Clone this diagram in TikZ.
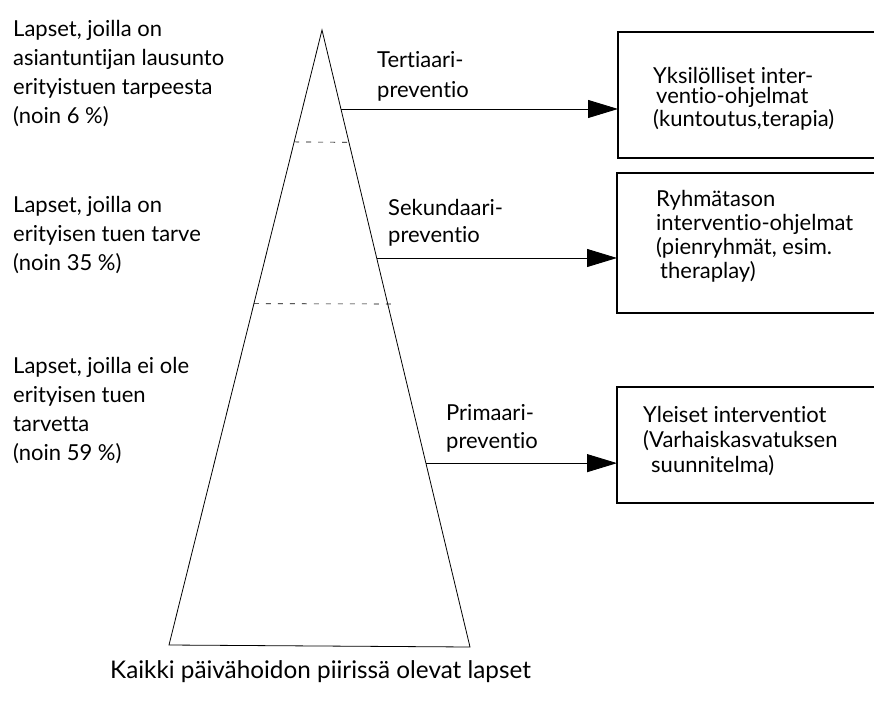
\documentclass[tikz,border=0pt]{standalone}
\usepackage{fontspec}
\setmainfont{Lato}[Ligatures=NoCommon]
\usetikzlibrary{arrows.meta,calc}
\begin{document}
\begin{tikzpicture}[x=1pt,y=-1pt,
  txt/.style={font=\fontsize{22}{29}\selectfont, align=left, inner sep=0pt, anchor=base west},
  box/.style={draw, line width=1.2pt, anchor=north west, minimum width=300pt, inner sep=0pt, outer sep=0pt},
  arr/.style={line width=0.9pt, -{Triangle[length=30pt,width=18pt]}},
  sep/.style={dash pattern=on 5pt off 7pt, line width=0.6pt}
]
\useasboundingbox (0,0) rectangle (874,701);
\clip (0,0) rectangle (874,701);
% pyramid
\coordinate (apex) at (322,30);
\coordinate (bl) at (169,645);
\coordinate (br) at (470,647);
\draw[line width=0.8pt, line join=miter] (apex) -- (br) -- (bl) -- cycle;
% level separators
\coordinate (d1l) at ($(apex)!0.182!(bl)$);
\coordinate (d1r) at ($(apex)!0.182!(br)$);
\coordinate (d2l) at ($(apex)!0.445!(bl)$);
\coordinate (d2e) at (397,304);
\draw[sep] (d1l) -- (d1r);
\draw[sep] (d2l) -- (d2e);
% boxes
\node[box, minimum height=126pt] (box1) at (618,32) {};
\node[box, minimum height=140pt] (box2) at (617,173) {};
\node[box, minimum height=116pt] (box3) at (617,387) {};
% arrows
\coordinate (a1) at ($(apex)!0.128!(br)$);
\coordinate (a2) at ($(apex)!0.3695!(br)$);
\coordinate (a3) at ($(apex)!0.702!(br)$);
\draw[arr] (a1) -- (a1 -| box1.west);
\draw[arr] (a2) -- (a2 -| box2.west);
\draw[arr] (a3) -- (a3 -| box3.west);
% left texts (anchored at the baseline of the last line)
\node[txt] (l1) at (13,123) {Lapset, joilla on\\asiantuntijan lausunto\\erityistuen tarpeesta\\(noin 6 \%)};
\node[txt] (l2) at (13,270) {Lapset, joilla on\\erityisen tuen tarve\\(noin 35 \%)};
\node[txt] (l3) at (13,460) {Lapset, joilla ei ole\\erityisen tuen\\tarvetta\\(noin 59 \%)};
% prevention labels
\node[txt, font=\fontsize{22}{30}\selectfont] (m1) at (377,97) {Tertiaari-\\preventio};
\node[txt, font=\fontsize{22}{27}\selectfont] (m2) at (388,242) {Sekundaari-\\preventio};
\node[txt, font=\fontsize{22}{28}\selectfont] (m3) at (446,448) {Primaari-\\preventio};
% box texts
\node[txt, font=\fontsize{22}{20.5}\selectfont] (t1) at (653,126) {Yksilölliset inter-\\\hspace{3pt}ventio-ohjelmat\\(kuntoutus,terapia)};
\node[txt, font=\fontsize{22}{24}\selectfont] (t2) at (656,278) {Ryhmätason\\interventio-ohjelmat\\(pienryhmät, esim.\\\hspace{4pt}theraplay)};
\node[txt, font=\fontsize{22}{25}\selectfont] (t3) at (643,472) {Yleiset interventiot\\(Varhaiskasvatuksen\\\hspace{8pt}suunnitelma)};
% bottom caption
\node[txt, font=\fontsize{24.3}{28}\selectfont] (cap) at (110,678) {Kaikki päivähoidon piirissä olevat lapset};
\end{tikzpicture}
\end{document}
